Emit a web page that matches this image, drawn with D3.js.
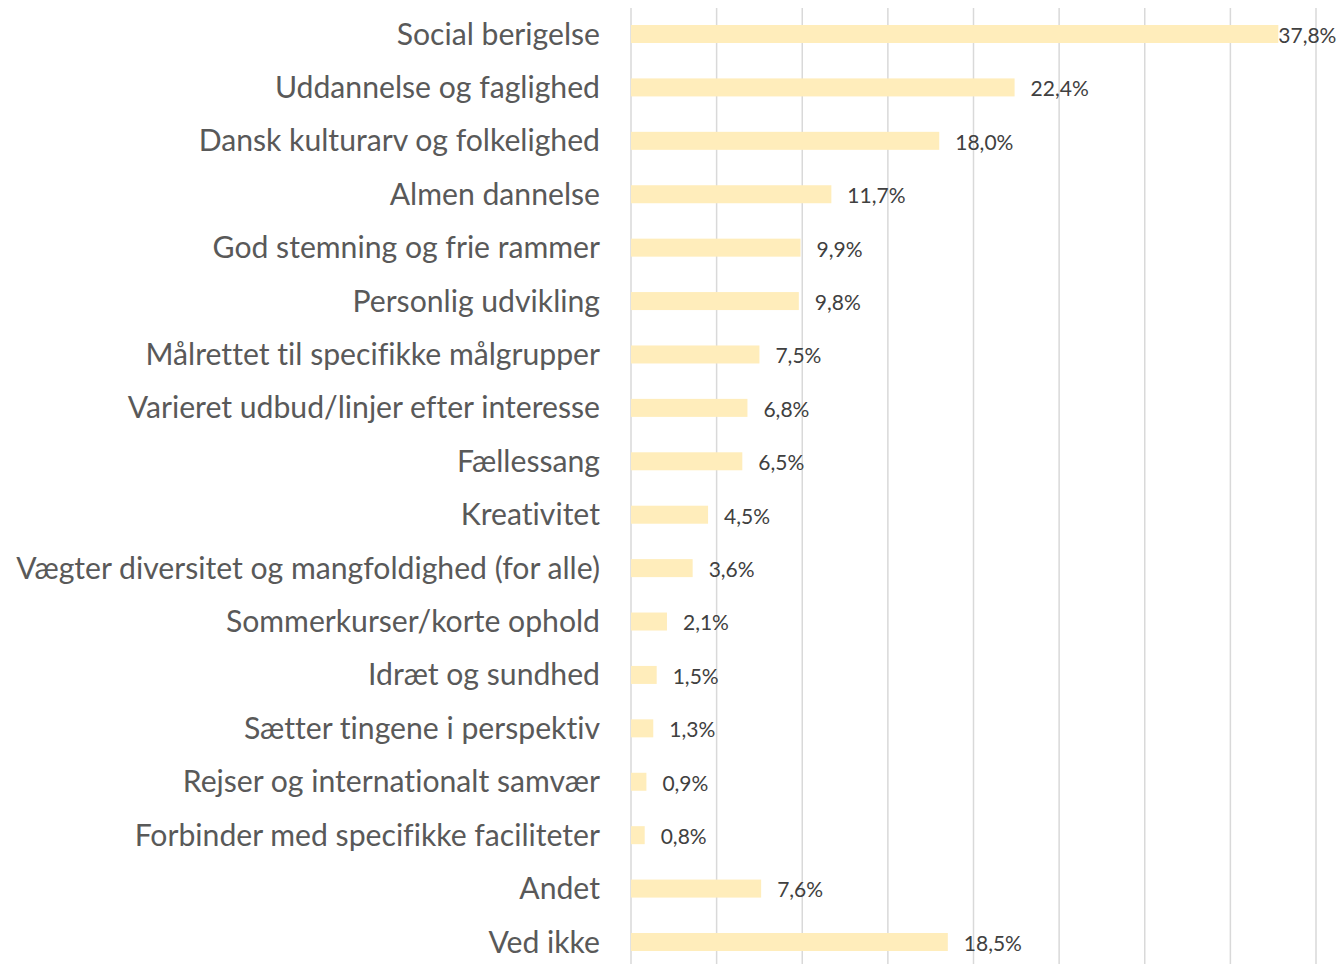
<!DOCTYPE html>
<html>
<head>
<meta charset="utf-8">
<script src="https://cdn.jsdelivr.net/npm/d3@7"></script>
<style>
body { margin: 0; background: #fff; }
svg { display: block; }
text { font-variant-ligatures: none; }
</style>
</head>
<body>
<script>
var categories = ["Social berigelse", "Uddannelse og faglighed", "Dansk kulturarv og folkelighed",
    "Almen dannelse", "God stemning og frie rammer", "Personlig udvikling",
    "Målrettet til specifikke målgrupper", "Varieret udbud/linjer efter interesse", "Fællessang",
    "Kreativitet", "Vægter diversitet og mangfoldighed (for alle)", "Sommerkurser/korte ophold",
    "Idræt og sundhed", "Sætter tingene i perspektiv", "Rejser og internationalt samvær",
    "Forbinder med specifikke faciliteter", "Andet", "Ved ikke"];
var values = [37.8, 22.4, 18.0, 11.7, 9.9, 9.8, 7.5, 6.8, 6.5, 4.5, 3.6, 2.1, 1.5, 1.3, 0.9, 0.8, 7.6, 18.5];
var xTicks = [0, 5, 10, 15, 20, 25, 30, 35, 40];

var W = 1340, H = 964;
var plotLeft = 631, plotRight = 1316;
var plotTop = 7.3, plotBottom = 968.7;

var svg = d3.select("body").append("svg")
    .attr("width", W)
    .attr("height", H);

var xScale = d3.scaleLinear().domain([0, 40]).range([plotLeft, plotRight]);
var yScale = d3.scaleBand().domain(categories).range([plotTop, plotBottom]);
var barH = 18;

// gridlines
svg.append("g").selectAll("line").data(xTicks).enter().append("line")
    .attr("x1", d => xScale(d)).attr("x2", d => xScale(d))
    .attr("y1", 8).attr("y2", H)
    .attr("stroke", "#d9d9d9").attr("stroke-width", 1.5);

// bars
svg.append("g").selectAll("rect").data(values).enter().append("rect")
    .attr("x", xScale(0))
    .attr("y", (d, i) => yScale(categories[i]) + yScale.bandwidth() / 2 - barH / 2)
    .attr("width", d => xScale(d) - xScale(0))
    .attr("height", barH)
    .attr("fill", "#ffedbb");

// category labels
var labels = svg.append("g").selectAll("text").data(categories).enter().append("text")
    .attr("x", 600)
    .attr("y", d => yScale(d) + yScale.bandwidth() / 2)
    .attr("dy", "0.35em")
    .attr("text-anchor", "end")
    .attr("fill", "#595959")
    .style("font-family", "Lato, 'Open Sans', sans-serif")
    .style("font-size", "26px")
    .text(d => d);

// fit longest label to reference width
var maxW = d3.max(labels.nodes(), n => n.getComputedTextLength());
labels.style("font-size", (26 * 584 / maxW) + "px");

// value labels
var fmt = v => v.toFixed(1).replace(".", ",") + "%";
svg.append("g").selectAll("text").data(values).enter().append("text")
    .attr("y", (d, i) => yScale(categories[i]) + yScale.bandwidth() / 2 + 1.5)
    .attr("dy", "0.35em")
    .attr("fill", "#404040")
    .style("font-family", "Lato, 'Open Sans', sans-serif")
    .style("font-size", "21px")
    .text(fmt)
    .attr("x", function(d) {
        var w = this.getComputedTextLength();
        var x = xScale(d) + 16;
        if (x + w > W - 2) x = xScale(d);
        return x;
    });
</script>
</body>
</html>
